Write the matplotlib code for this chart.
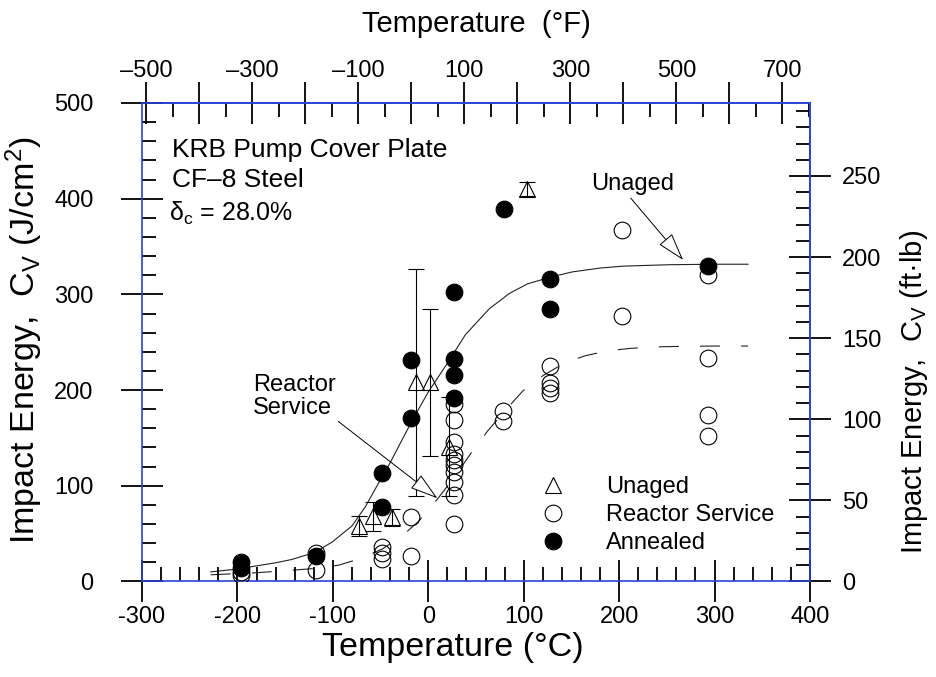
import numpy as np
import matplotlib.pyplot as plt
from matplotlib.lines import Line2D
from matplotlib.ticker import MultipleLocator, FixedLocator, FixedFormatter

plt.rcParams['font.family'] = ['Liberation Sans', 'DejaVu Sans']
plt.rcParams['mathtext.fontset'] = 'custom'
plt.rcParams['mathtext.rm'] = 'Liberation Sans'
plt.rcParams['mathtext.it'] = 'Liberation Sans:italic'
plt.rcParams['axes.unicode_minus'] = False

# Charpy data, KRB pump cover plate
unaged_T = [-73, -58, -38, -13, 2, 22, 103]
unaged_E = [58, 68, 67, 208, 208, 141, 410]
unaged_err = [10, 15, 9, 119, 77, 52, 7]

service_T = [-196, -196, -118, -118, -48, -48, -48, -18, -18,
             27, 27, 27, 27, 27, 27, 27, 27, 27, 27,
             78, 78, 128, 128, 128, 128, 203, 203, 293, 293, 293, 293]
service_E = [10, 7, 30, 12, 36, 30, 24, 67, 27,
             185, 169, 146, 133, 127, 122, 114, 104, 90, 60,
             178, 168, 225, 207, 202, 197, 367, 277, 320, 234, 174, 152]

annealed_T = [-196, -196, -118, -48, -48, -18, -18, 27, 27, 27, 27, 79, 128, 128, 293]
annealed_E = [20, 14, 27, 113, 78, 231, 171, 303, 232, 216, 192, 389, 316, 285, 330]

# tanh fit curves
fit_unaged_T = [-228, -200, -185, -160, -143, -120, -101, -80, -66, -52, -40, -17,
                0, 18, 39, 64, 85, 104, 128, 151, 180, 204, 253, 300, 335]
fit_unaged_E = [10, 13, 15.5, 19.5, 23, 30, 41, 58, 78, 103, 124, 168,
                198, 225, 258, 285, 301, 311, 318, 323.5, 327.5, 329.5, 331, 331.5, 331.5]
fit_service_T = [-228, -183, -160, -120, -94, -71, -48, -27, -10, 9.5, 25, 35, 44,
                 62, 80, 99, 120, 144, 165, 188, 211, 233, 256, 298, 335]
fit_service_E = [7, 9, 10.5, 13.5, 17, 24, 34, 48, 63, 86, 106, 120, 133,
                 157, 178, 199, 215, 229, 236, 241, 243.5, 245, 245.5, 246, 246]

top_ticks_F = [-500, -400, -300, -200, -100, 0, 100, 200, 300, 400, 500, 600, 700]
top_labels = ['–500', '', '–300', '', '–100', '', '100', '', '300', '', '500', '', '700']

FTLB = 1.35582 / 0.8   # ft.lb -> J/cm2 (0.8 cm2 Charpy section)
blue = '#2743d6'

fig = plt.figure(figsize=(9.36, 6.77), dpi=100)
ax = fig.add_axes([0.1517, 0.1411, 0.7137, 0.7068])

ax.plot(fit_unaged_T, fit_unaged_E, '-', color='#222222', lw=0.8, zorder=1)
ax.plot(fit_service_T, fit_service_E, color='#222222', lw=0.8,
        linestyle=(0, (18, 19)), zorder=1)

ax.errorbar(unaged_T, unaged_E, yerr=unaged_err, fmt='^', ms=11, mfc='none',
            mec='black', mew=0.8, ecolor='black', elinewidth=0.8,
            capsize=6, capthick=0.8, zorder=2)
ax.plot(service_T, service_E, 'o', ms=12, mfc='none', mec='black', mew=0.8, zorder=3)
ax.plot(annealed_T, annealed_E, 'o', ms=12, mfc='black', mec='black', mew=0.8, zorder=4)

ax.set_xlim(-300, 400)
ax.set_ylim(0, 500)

for s in ax.spines.values():
    s.set_color(blue)
    s.set_linewidth(1.2)

ax.xaxis.set_major_locator(MultipleLocator(100))
ax.xaxis.set_minor_locator(MultipleLocator(20))
ax.yaxis.set_major_locator(MultipleLocator(100))
ax.yaxis.set_minor_locator(MultipleLocator(20))
ax.tick_params(which='major', direction='inout', length=30, width=1.3, labelsize=17)
ax.tick_params(which='minor', direction='in', length=10, width=1.3)
ax.tick_params(axis='x', which='major', pad=3)
ax.tick_params(axis='y', which='major', pad=20)

ax.set_xlabel('Temperature (°C)', fontsize=24.5)
ax.xaxis.set_label_coords(0.4656, -0.105)
ax.set_ylabel('Impact Energy,  C$_{\\mathregular{V}}$ (J/cm$^{\\mathregular{2}}$)', fontsize=24.5)
ax.yaxis.set_label_coords(-0.145, 0.505)

# top axis in Fahrenheit
top = ax.secondary_xaxis('top', functions=(lambda c: c * 9 / 5 + 32, lambda f: (f - 32) * 5 / 9))
top.xaxis.set_major_locator(FixedLocator(top_ticks_F))
top.xaxis.set_major_formatter(FixedFormatter(top_labels))
top.xaxis.set_minor_locator(MultipleLocator(50))
top.tick_params(which='major', direction='inout', length=30, width=1.3, labelsize=17, pad=0)
top.tick_params(which='minor', direction='in', length=10, width=1.3)
top.spines['top'].set_color(blue)
top.spines['top'].set_linewidth(1.2)
top.set_xlabel('Temperature  (°F)', fontsize=21, labelpad=20)

# right axis in ft.lb
right = ax.secondary_yaxis('right', functions=(lambda e: e / FTLB, lambda f: f * FTLB))
right.yaxis.set_major_locator(MultipleLocator(50))
right.yaxis.set_minor_locator(MultipleLocator(10))
right.tick_params(which='major', direction='inout', length=30, width=1.3, labelsize=17, pad=8)
right.tick_params(which='minor', direction='in', length=10, width=1.3)
right.spines['right'].set_color(blue)
right.spines['right'].set_linewidth(1.2)
right.set_ylabel('Impact Energy,  C$_{\\mathregular{V}}$ (ft·lb)', fontsize=21, labelpad=12, y=0.397)

# text and arrows
ax.text(-269, 451, 'KRB Pump Cover Plate', fontsize=19, va='center')
ax.text(-269, 420, 'CF–8 Steel', fontsize=19, va='center')
ax.text(-272, 385, '$\\mathregular{\\delta_c}$ = 28.0%', fontsize=18, va='center')

arrow = dict(arrowstyle='-|>,head_length=1.05,head_width=0.32', fc='white', ec='black', lw=0.7,
             shrinkA=0, shrinkB=0)
ax.annotate('Unaged', xy=(267, 336), xytext=(214, 415), fontsize=17,
            ha='center', va='center', arrowprops=dict(arrow, relpos=(0.45, 0.0)))
ax.annotate('Reactor\nService', xy=(9.5, 87), xytext=(-184, 193), fontsize=17,
            ha='left', va='center', linespacing=1.05, arrowprops=dict(arrow, relpos=(1.0, 0.0)))

handles = [Line2D([], [], ls='none', marker='^', ms=11, mfc='none', mec='black', mew=0.8),
           Line2D([], [], ls='none', marker='o', ms=12, mfc='none', mec='black', mew=0.8),
           Line2D([], [], ls='none', marker='o', ms=12, mfc='black', mec='black', mew=0.8)]
ax.legend(handles, ['Unaged', 'Reactor Service', 'Annealed'], loc='upper left',
          bbox_to_anchor=(0.58, 0.245), frameon=False, fontsize=17, handlelength=1,
          handletextpad=1.75, labelspacing=0.25, borderpad=0)

fig.savefig('out.png', dpi=100)
